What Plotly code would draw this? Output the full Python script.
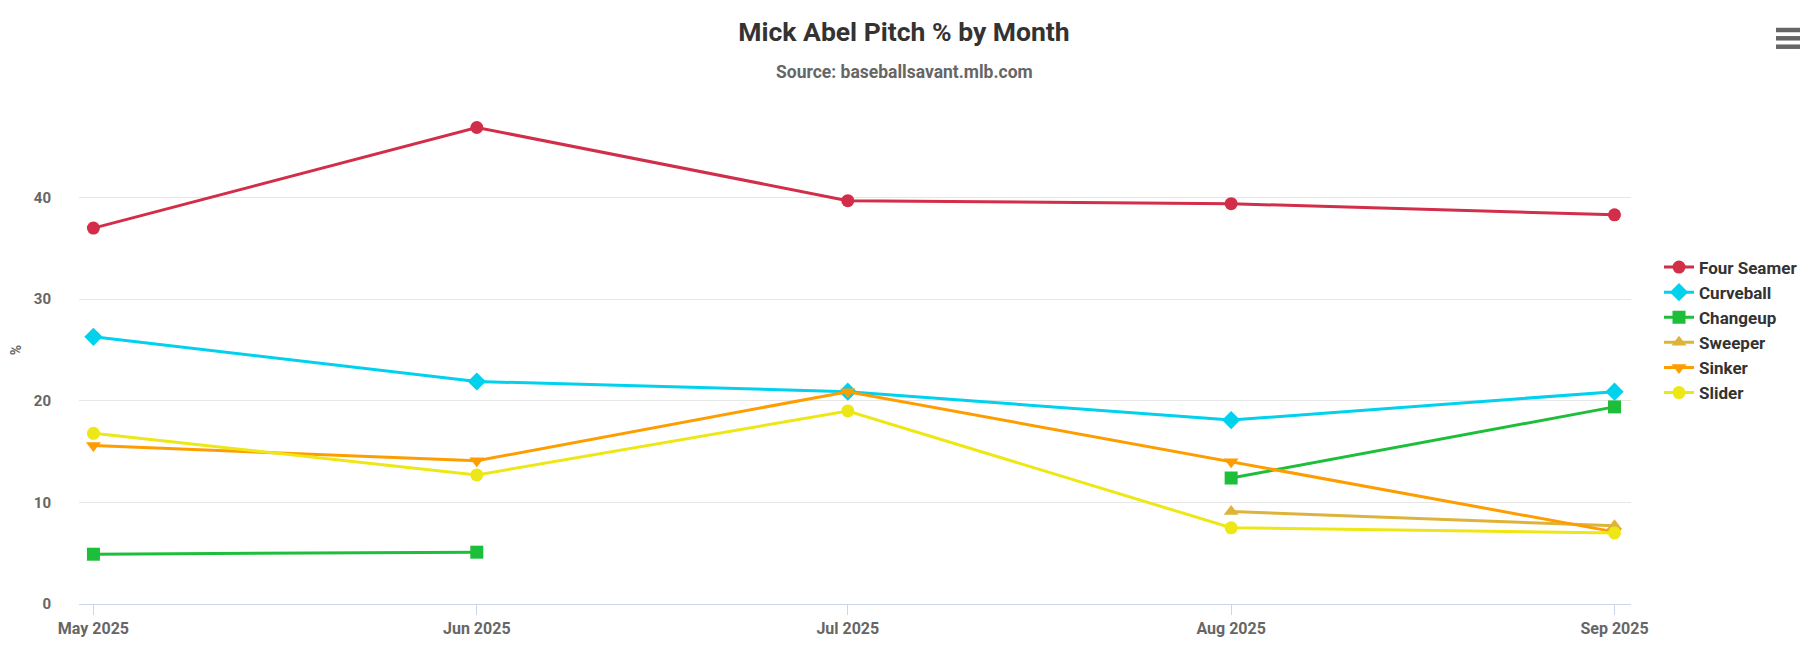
import plotly.graph_objects as go

# monthly pitch usage, Mick Abel 2025
months = ['2025-05-01', '2025-06-01', '2025-07-01', '2025-08-01', '2025-09-01']
month_labels = ['May 2025', 'Jun 2025', 'Jul 2025', 'Aug 2025', 'Sep 2025']

four_seamer = [37.0, 46.9, 39.7, 39.4, 38.3]
curveball = [26.3, 21.9, 20.9, 18.1, 20.9]
changeup = [4.9, 5.1, None, 12.4, 19.4]
sweeper = [None, None, None, 9.1, 7.7]
sinker = [15.6, 14.1, 20.9, 14.0, 7.1]
slider = [16.8, 12.7, 19.0, 7.5, 7.0]

series = [
    ('Four Seamer', four_seamer, '#d22d49', 'circle'),
    ('Curveball', curveball, '#00d1ed', 'diamond'),
    ('Changeup', changeup, '#1dbe3a', 'square'),
    ('Sweeper', sweeper, '#ddb33a', 'triangle-up'),
    ('Sinker', sinker, '#fe9d00', 'triangle-down'),
    ('Slider', slider, '#eee716', 'circle'),
]

# page body has an 8px margin all round, so keep the figure inside the window
W, H = 1792, 634
ml, mr, mt, mb = 71, 169, 88, 38

fig = go.Figure()
for name, vals, color, sym in series:
    fig.add_trace(go.Scatter(x=months, y=vals, name=name, mode='lines+markers',
                             line=dict(color=color, width=3),
                             marker=dict(symbol=sym, size=13 if sym != 'diamond' else 14, color=color),
                             connectgaps=False))

fig.update_layout(
    width=W, height=H,
    margin=dict(l=ml, r=mr, t=mt, b=mb, autoexpand=False),
    plot_bgcolor='white', paper_bgcolor='white',
    font=dict(family='Roboto, sans-serif', color='#666666'),
    title=dict(text='Mick Abel Pitch % by Month', x=0.5, xanchor='center', y=1 - 24 / H, yanchor='middle',
               font=dict(size=26.5, color='#333333', weight='bold')),
    legend=dict(x=1651 / W, xref='container', xanchor='left', y=1 - 322 / H, yref='container', yanchor='middle',
                font=dict(size=17, color='#333333', weight='bold'), bgcolor='rgba(0,0,0,0)'),
    showlegend=True,
)

fig.add_annotation(text='Source: baseballsavant.mlb.com', xref='paper', yref='paper',
                   x=(W / 2 - ml) / (W - ml - mr), y=(H - mb - 64) / (H - mt - mb),
                   xanchor='center', yanchor='middle', showarrow=False,
                   font=dict(size=17.5, color='#666666', weight='bold'))

fig.update_xaxes(type='date', range=['2025-04-29 20:00', '2025-09-02 08:00'],
                 tickvals=months, ticktext=month_labels, automargin=False,
                 ticks='outside', ticklen=10, tickcolor='#ccd6eb', tickwidth=1,
                 showline=True, linecolor='#ccd6eb', linewidth=1, showgrid=False, zeroline=False,
                 tickfont=dict(size=16, color='#666666', weight='bold'))
fig.update_yaxes(range=[0, 50], tickvals=[0, 10, 20, 30, 40], gridcolor='#e6e6e6', gridwidth=1,
                 zeroline=False, showline=False, ticks='', ticklabelstandoff=27, automargin=False,
                 tickfont=dict(size=15, color='#666666', weight='bold'),
                 title=dict(text='%', standoff=14, font=dict(size=14, color='#666666', weight='bold')))

# export menu icon (top right)
pw, ph = W - ml - mr, H - mt - mb
for py in [22, 30.3, 38.7]:
    fig.add_shape(type='line', xref='paper', yref='paper',
                  x0=(1768 - ml) / pw, x1=(1792 - ml) / pw,
                  y0=(H - mb - py) / ph, y1=(H - mb - py) / ph,
                  line=dict(color='#666666', width=4.5))

fig.write_html('out.html', config={'displayModeBar': False})
